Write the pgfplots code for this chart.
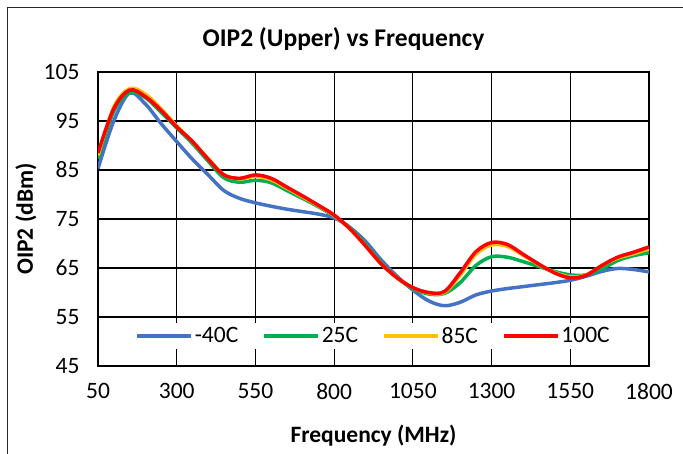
\documentclass[border=0pt]{standalone}
\usepackage{fontspec}
\setmainfont{Carlito}
\usepackage{pgfplots}
\pgfplotsset{compat=1.18}
\usepackage{pgfplotstable}

\definecolor{cBlue}{HTML}{4472C4}
\definecolor{cGreen}{HTML}{00B050}
\definecolor{cYellow}{HTML}{FFC000}
\definecolor{cRed}{HTML}{FF0000}

% OIP2 upper (dBm) vs frequency (MHz), four temperatures
\pgfplotstableread{
f    m40   p25   p85   p100
50   85.3  87.3  88.0  88.5
100  95.0  97.0  97.8  97.5
150  100.7 100.8 101.6 101.3
200  98.5  99.8  100.5 100.0
250  94.5  96.8  97.5  97.2
300  90.8  93.6  94.0  93.8
350  87.2  90.4  90.8  90.8
400  84.0  86.8  87.3  87.2
450  80.8  83.4  84.0  84.0
500  79.2  82.5  83.2  83.3
550  78.3  82.9  83.7  84.0
600  77.6  82.4  83.0  83.3
650  77.0  80.8  81.3  81.5
700  76.5  79.2  79.5  79.7
750  76.0  77.5  77.7  77.8
800  75.2  75.6  75.7  75.8
850  73.3  73.2  73.0  73.0
900  70.4  69.8  69.5  69.5
950  66.6  66.0  65.8  65.8
1000 63.3  63.0  63.0  63.0
1050 60.5  60.8  61.0  61.0
1100 58.3  59.7  59.9  60.0
1150 57.3  59.8  60.0  60.2
1200 58.0  62.0  63.5  64.0
1250 59.5  65.5  67.8  68.3
1300 60.3  67.3  69.7  70.2
1350 60.8  67.2  69.4  69.8
1400 61.2  66.3  67.6  67.8
1450 61.6  65.3  65.7  65.8
1500 62.0  64.3  64.1  64.0
1550 62.5  63.6  63.2  63.0
1600 63.3  63.6  63.6  63.5
1650 64.3  64.8  65.5  65.5
1700 64.9  66.5  67.0  67.2
1750 64.7  67.5  67.9  68.2
1800 64.2  68.1  68.9  69.3
}\oiptable

\begin{document}
\begin{tikzpicture}
\useasboundingbox (0,0) rectangle (683bp,454bp);
\draw[line width=1bp, black!85] (7.5bp,0) -- (7.5bp,446.5bp) -- (683bp,446.5bp);
\begin{axis}[
  at={(98bp,88bp)}, anchor=south west,
  width=551bp, height=294bp, scale only axis,
  xmin=50, xmax=1800, ymin=45, ymax=105,
  xtick={50,300,...,1800}, ytick={45,55,...,105},
  grid=major, major grid style={black, line width=1.2bp},
  axis line style={line width=1.5bp},
  major tick length=0pt,
  /pgf/number format/assume math mode=true,
  /pgf/number format/set thousands separator={},
  tick label style={font=\fontsize{23.5bp}{28bp}\selectfont},
  yticklabel style={xshift=-15bp},
  xticklabel style={yshift=-14bp},
  title={OIP2 (Upper) vs Frequency},
  title style={font=\bfseries\fontsize{25.5bp}{30bp}\selectfont,
    at={(axis description cs:0.4456,1)}, anchor=base, yshift=20bp},
  xlabel={Frequency (MHz)},
  xlabel style={font=\bfseries\fontsize{23.5bp}{28bp}\selectfont,
    at={(axis description cs:0.5,0)}, anchor=base, yshift=-76bp},
  ylabel={OIP2 (dBm)},
  ylabel style={font=\bfseries\fontsize{23.5bp}{28bp}\selectfont,
    at={(axis description cs:-0.118,0.5)}, anchor=base},
  legend columns=4,
  legend image code/.code={\draw[#1, line width=3.5bp] (0bp,0bp) -- (54bp,0bp);},
  legend style={at={(axis description cs:0.5,0.102)}, anchor=center,
    draw=none, fill=white, font=\fontsize{23.5bp}{28bp}\selectfont,
    /tikz/every even column/.append style={column sep=22bp}},
  every axis plot/.append style={line width=3.5bp, smooth, tension=0.55},
]
\addplot[cBlue] table[x=f, y=m40] {\oiptable};
\addplot[cGreen] table[x=f, y=p25] {\oiptable};
\addplot[cYellow] table[x=f, y=p85] {\oiptable};
\addplot[cRed] table[x=f, y=p100] {\oiptable};
\legend{-40C, 25C, 85C, 100C}
\end{axis}
\end{tikzpicture}
\end{document}
